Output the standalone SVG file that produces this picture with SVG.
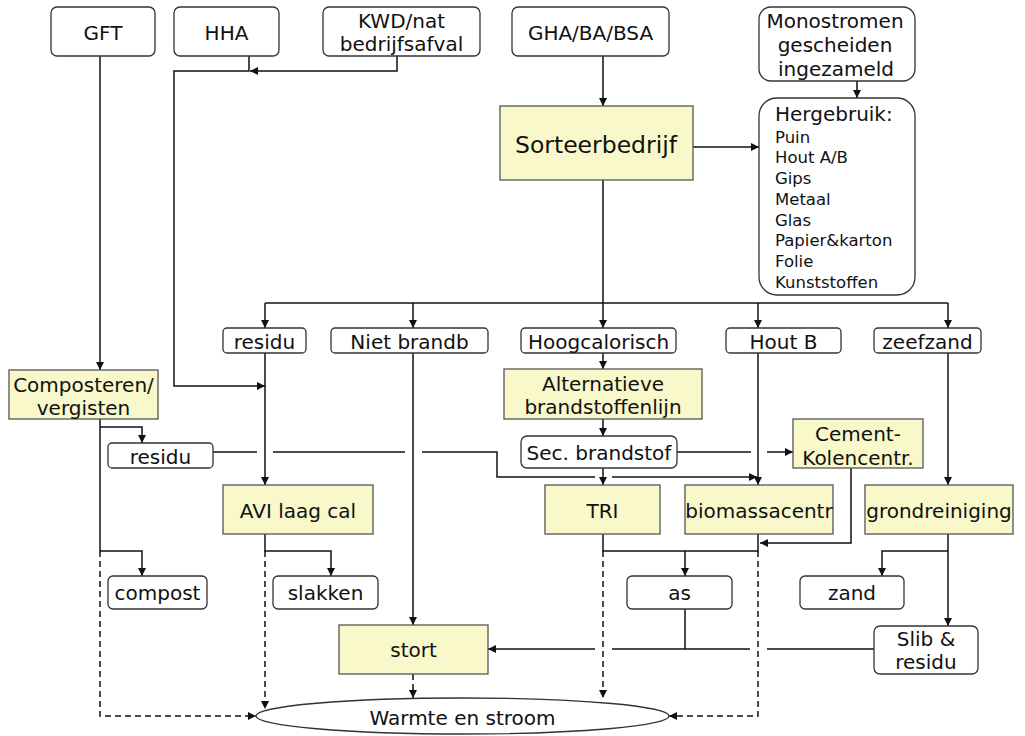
<svg xmlns="http://www.w3.org/2000/svg" width="1025" height="736" viewBox="0 0 1025 736">
<style>
text{font-family:Verdana,"DejaVu Sans",sans-serif;font-size:20px;fill:#111;text-anchor:middle}
.w{fill:#fff;stroke:#333;stroke-width:1.3}
.y{fill:#F8F8CA;stroke:#555;stroke-width:1.3}
.c{fill:none;stroke:#111;stroke-width:1.5}
.d{stroke-dasharray:6 4}
.a{marker-end:url(#ah)}
.l{text-anchor:start;font-size:16.5px}
</style>
<defs>
<marker id="ah" viewBox="0 0 10 10" refX="10" refY="5" markerWidth="9" markerHeight="8" markerUnits="userSpaceOnUse" orient="auto"><path d="M0,0 L10,5 L0,10 z" fill="#111"/></marker>
</defs>
<rect width="1025" height="736" fill="#fff"/>
<g id="connectors">
<path class="c a" d="M100,56 V370"/>
<path class="c a" d="M249,56 V71 H174 V386 H265"/>
<path class="c a" d="M397,56 V71 H250"/>
<path class="c a" d="M603,56 V106"/>
<path class="c a" d="M693,147 H759"/>
<path class="c a" d="M857,81 V98"/>
<path class="c a" d="M603,180 V328"/>
<path class="c" d="M265,303 H948"/>
<path class="c a" d="M265,303 V328"/>
<path class="c a" d="M413,303 V328"/>
<path class="c a" d="M758,303 V328"/>
<path class="c a" d="M948,303 V328"/>
<path class="c a" d="M265,353 V485"/>
<path class="c a" d="M413,353 V625"/>
<path class="c a" d="M603,353 V369"/>
<path class="c a" d="M603,419 V436"/>
<path class="c a" d="M603,468 V485"/>
<path class="c" d="M677,452 H751"/>
<path class="c a" d="M767,452 H793"/>
<path class="c a" d="M758,353 V485"/>
<path class="c a" d="M948,353 V485"/>
<path class="c" d="M100,419 V551"/>
<path class="c a" d="M100,427 H142 V443"/>
<path class="c a" d="M100,551 H142 V576"/>
<path class="c" d="M213,452 H257 M273,452 H405"/>
<path class="c" d="M422,452 H497 V477 H595"/>
<path class="c a" d="M612,477 H757"/>
<path class="c a" d="M851,468 V543 H760"/>
<path class="c a" d="M265,534 V551 H331 V576"/>
<path class="c" d="M603,534 V551 H758 V534"/>
<path class="c a" d="M685,551 V576"/>
<path class="c" d="M685,609 V649"/>
<path class="c a" d="M948,534 V626"/>
<path class="c a" d="M948,551 H882 V576"/>
<path class="c" d="M874,649 H767 M750,649 H612"/>
<path class="c a" d="M595,649 H488"/>
<path class="c d a" d="M100,551 V716 H256"/>
<path class="c d a" d="M265,551 V709"/>
<path class="c d a" d="M413,674 V698"/>
<path class="c d a" d="M603,551 V698"/>
<path class="c d a" d="M758,551 V716 H669"/>
</g>
<g id="n-gft"><rect class="w" x="51" y="7" width="104" height="49" rx="6"/><text x="103" y="40">GFT</text></g>
<g id="n-hha"><rect class="w" x="174" y="7" width="105" height="49" rx="6"/><text x="226.5" y="40">HHA</text></g>
<g id="n-kwd"><rect class="w" x="323" y="7" width="157" height="49" rx="6"/><text x="401.5" y="28">KWD/nat</text><text x="401.5" y="51">bedrijfsafval</text></g>
<g id="n-gha"><rect class="w" x="512" y="7" width="157" height="49" rx="6"/><text x="590.5" y="40">GHA/BA/BSA</text></g>
<g id="n-mono"><rect class="w" x="759" y="7" width="156" height="74" rx="12"/><text x="835" y="28">Monostromen</text><text x="835" y="52">gescheiden</text><text x="836" y="76">ingezameld</text></g>
<g id="n-sorteer"><rect class="y" x="500" y="106" width="193" height="74"/><text x="596" y="153" style="font-size:23.5px">Sorteerbedrijf</text></g>
<g id="n-herg"><rect class="w" x="759" y="98" width="156" height="197" rx="18"/><text x="775" y="121" style="text-anchor:start">Hergebruik:</text>
<text class="l" x="775" y="143">Puin</text><text class="l" x="775" y="163">Hout A/B</text><text class="l" x="775" y="184">Gips</text><text class="l" x="775" y="205">Metaal</text><text class="l" x="775" y="226">Glas</text><text class="l" x="775" y="246">Papier&amp;karton</text><text class="l" x="775" y="267">Folie</text><text class="l" x="775" y="288">Kunststoffen</text></g>
<g id="n-residu1"><rect class="w" x="223" y="328" width="83" height="25" rx="4"/><text x="264.5" y="349">residu</text></g>
<g id="n-nietbrandb"><rect class="w" x="331" y="328" width="157" height="25" rx="4"/><text x="409.5" y="349">Niet brandb</text></g>
<g id="n-hoogcal"><rect class="w" x="521" y="328" width="155" height="25" rx="4"/><text x="598.5" y="349">Hoogcalorisch</text></g>
<g id="n-houtb"><rect class="w" x="726" y="328" width="115" height="25" rx="4"/><text x="783.5" y="349">Hout B</text></g>
<g id="n-zeefzand"><rect class="w" x="874" y="328" width="107" height="25" rx="4"/><text x="927.5" y="349">zeefzand</text></g>
<g id="n-compverg"><rect class="y" x="9" y="370" width="149" height="49"/><text x="83.5" y="392">Composteren/</text><text x="83.5" y="415">vergisten</text></g>
<g id="n-alt"><rect class="y" x="504" y="369" width="198" height="50"/><text x="603" y="391">Alternatieve</text><text x="603" y="414">brandstoffenlijn</text></g>
<g id="n-residu2"><rect class="w" x="108" y="443" width="105" height="25" rx="4"/><text x="160.5" y="464">residu</text></g>
<g id="n-sec"><rect class="w" x="521" y="436" width="156" height="32" rx="6"/><text x="599" y="460">Sec. brandstof</text></g>
<g id="n-cement"><rect class="y" x="793" y="419" width="130" height="49"/><text x="858" y="441">Cement-</text><text x="858" y="465">Kolencentr.</text></g>
<g id="n-avi"><rect class="y" x="223" y="485" width="150" height="49"/><text x="298" y="518">AVI laag cal</text></g>
<g id="n-tri"><rect class="y" x="545" y="485" width="115" height="49"/><text x="602.5" y="518">TRI</text></g>
<g id="n-biomassa"><rect class="y" x="685" y="485" width="148" height="49"/><text x="759" y="518">biomassacentr</text></g>
<g id="n-grond"><rect class="y" x="865" y="485" width="148" height="49"/><text x="939" y="518">grondreiniging</text></g>
<g id="n-compost"><rect class="w" x="108" y="576" width="99" height="33" rx="5"/><text x="157.5" y="600">compost</text></g>
<g id="n-slakken"><rect class="w" x="273" y="576" width="105" height="33" rx="5"/><text x="325.5" y="600">slakken</text></g>
<g id="n-as"><rect class="w" x="627" y="576" width="105" height="33" rx="5"/><text x="679.5" y="600">as</text></g>
<g id="n-zand"><rect class="w" x="800" y="576" width="104" height="33" rx="5"/><text x="852" y="600">zand</text></g>
<g id="n-stort"><rect class="y" x="339" y="625" width="149" height="49"/><text x="413.5" y="657">stort</text></g>
<g id="n-slib"><rect class="w" x="874" y="626" width="104" height="48" rx="6"/><text x="926" y="646">Slib &amp;</text><text x="926" y="669">residu</text></g>
<g id="n-warmte"><ellipse class="w" cx="462.5" cy="716" rx="206.5" ry="18"/><text x="462.5" y="725">Warmte en stroom</text></g>
</svg>
